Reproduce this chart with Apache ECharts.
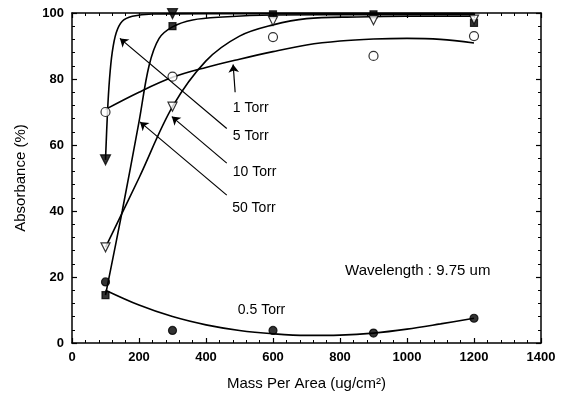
<!DOCTYPE html>
<html>
<head>
<meta charset="utf-8">
<script src="https://cdn.jsdelivr.net/npm/echarts@6/dist/echarts.min.js"></script>
<style>
  html, body { margin: 0; padding: 0; background: #fff; }
  #chart { width: 561px; height: 397px; }
</style>
</head>
<body>
<div id="chart"></div>
<script>
// measured points (mass per area, absorbance %)
var massValues = [100, 300, 600, 900, 1200];
var torr05Points = [18.5, 3.8, 3.8, 3, 7.5];
var torr1Points = [70, 80.7, 92.7, 87, 93];
var torr5Points = [14.5, 96, 99.6, 99.6, 97];
var torr10Points = [29, 71.6, 97.6, 97.8, 98];
var torr50Points = [55.5, 99.8, null, null, null];

// fitted curves
var torr05Curve = [[100, 16], [200, 11.5], [300, 8], [400, 5.5], [500, 3.8], [600, 2.8], [700, 2.3], [800, 2.4], [900, 3], [1000, 4.2], [1100, 5.8], [1200, 7.5]];
var torr1Curve = [[100, 70.8], [200, 76], [300, 80.5], [400, 83.5], [500, 86], [600, 88.3], [700, 90.3], [800, 91.5], [900, 92.1], [1000, 92.3], [1100, 92], [1200, 90.9]];
var torr5Curve = [[100, 14.5], [150, 40], [200, 67], [230, 84], [260, 92.3], [300, 95.8], [360, 97.9], [450, 98.8], [600, 99.4], [900, 99.5], [1200, 99.5]];
var torr10Curve = [[100, 29], [200, 50], [300, 71.6], [400, 85.5], [500, 93], [600, 96.4], [700, 98.3], [850, 98.8], [1000, 99], [1200, 99]];
var torr50Curve = [[100, 55.5], [106, 70], [112, 80], [120, 88], [132, 94], [150, 97.5], [180, 99], [240, 99.7], [400, 99.8], [1200, 99.8]];

// annotation arrows: [from, to] in data units
var arrows = [
  [[487, 76], [481, 84.4]],
  [[462, 65], [143, 92.3]],
  [[462, 54.5], [298, 68.6]],
  [[462, 44.8], [203, 67]]
];
var labelTexts = ['1 Torr', '5 Torr', '10 Torr', '50 Torr', '0.5 Torr', 'Wavelength : 9.75 um'];
var labelPos = [[480, 71.2], [480, 62.7], [480, 51.7], [478, 41], [495, 10], [815, 22]];

function pairs(ys) {
  return massValues.map(function (x, i) { return [x, ys[i]]; }).filter(function (p) { return p[1] != null; });
}

var chart = echarts.init(document.getElementById('chart'));

var axisBase = {
  type: 'value',
  axisLine: { show: true, onZero: false, lineStyle: { color: '#000', width: 1.5 } },
  axisTick: { show: true, inside: true, length: 5, lineStyle: { color: '#000', width: 1.2 } },
  minorTick: { show: true, splitNumber: 5, length: 3, lineStyle: { color: '#000', width: 1 } },
  splitLine: { show: false },
  axisLabel: {
    color: '#000', fontSize: 13, fontFamily: 'Liberation Sans, Arial', fontWeight: 'bold',
    formatter: function (v) { return String(v); }
  }
};

function curve(data) {
  return {
    type: 'line', data: data, smooth: 0.35, symbol: 'none',
    lineStyle: { color: '#000', width: 1.6 }, z: 2, silent: true
  };
}

function points(ys, symbol, size, filled) {
  return {
    type: 'scatter', data: pairs(ys), symbol: symbol, symbolSize: size,
    itemStyle: { color: filled ? '#000' : '#fff', borderColor: '#000', borderWidth: 1.2 },
    z: 3, silent: true
  };
}

var option = {
  backgroundColor: '#fff',
  animation: false,
  grid: { left: 72, right: 20, top: 13, bottom: 54 },
  xAxis: [
    Object.assign({}, axisBase, {
      min: 0, max: 1400, interval: 200, position: 'bottom',
      name: 'Mass Per Area (ug/cm²)', nameLocation: 'middle', nameGap: 33,
      nameTextStyle: { color: '#000', fontSize: 15, fontFamily: 'Liberation Sans, Arial' }
    }),
    Object.assign({}, axisBase, {
      min: 0, max: 1400, interval: 200, position: 'top',
      axisLabel: { show: false }
    })
  ],
  yAxis: [
    Object.assign({}, axisBase, {
      min: 0, max: 100, interval: 20, position: 'left',
      name: 'Absorbance (%)', nameLocation: 'middle', nameGap: 44, nameRotate: 90,
      nameTextStyle: { color: '#000', fontSize: 15, fontFamily: 'Liberation Sans, Arial' }
    }),
    Object.assign({}, axisBase, {
      min: 0, max: 100, interval: 20, position: 'right',
      axisLabel: { show: false }
    })
  ],
  series: [
    curve(torr05Curve),
    curve(torr1Curve),
    curve(torr5Curve),
    curve(torr10Curve),
    curve(torr50Curve),
    points(torr05Points, 'circle', 8, true),
    points(torr1Points, 'circle', 9, false),
    points(torr5Points, 'rect', 7, true),
    points(torr10Points, 'triangle', 9, false),
    points(torr50Points, 'triangle', 10, true),
    {
      type: 'lines', coordinateSystem: 'cartesian2d',
      symbol: ['none', 'arrow'], symbolSize: [0, 8],
      lineStyle: { color: '#000', width: 1.2, opacity: 1 },
      data: arrows.map(function (a) { return { coords: a }; }),
      z: 4, silent: true
    }
  ]
};
// scatter triangles point down in the figure
option.series[8].symbolRotate = 180;
option.series[9].symbolRotate = 180;

chart.setOption(option);

var texts = labelTexts.map(function (t, i) {
  var p = chart.convertToPixel({ gridIndex: 0 }, labelPos[i]);
  return {
    type: 'text', x: p[0], y: p[1],
    style: {
      text: t, fill: '#000', fontSize: i === 5 ? 15 : 14,
      fontFamily: 'Liberation Sans, Arial', verticalAlign: 'middle', align: 'left'
    },
    z: 10
  };
});
chart.setOption({ graphic: texts });
</script>
</body>
</html>
